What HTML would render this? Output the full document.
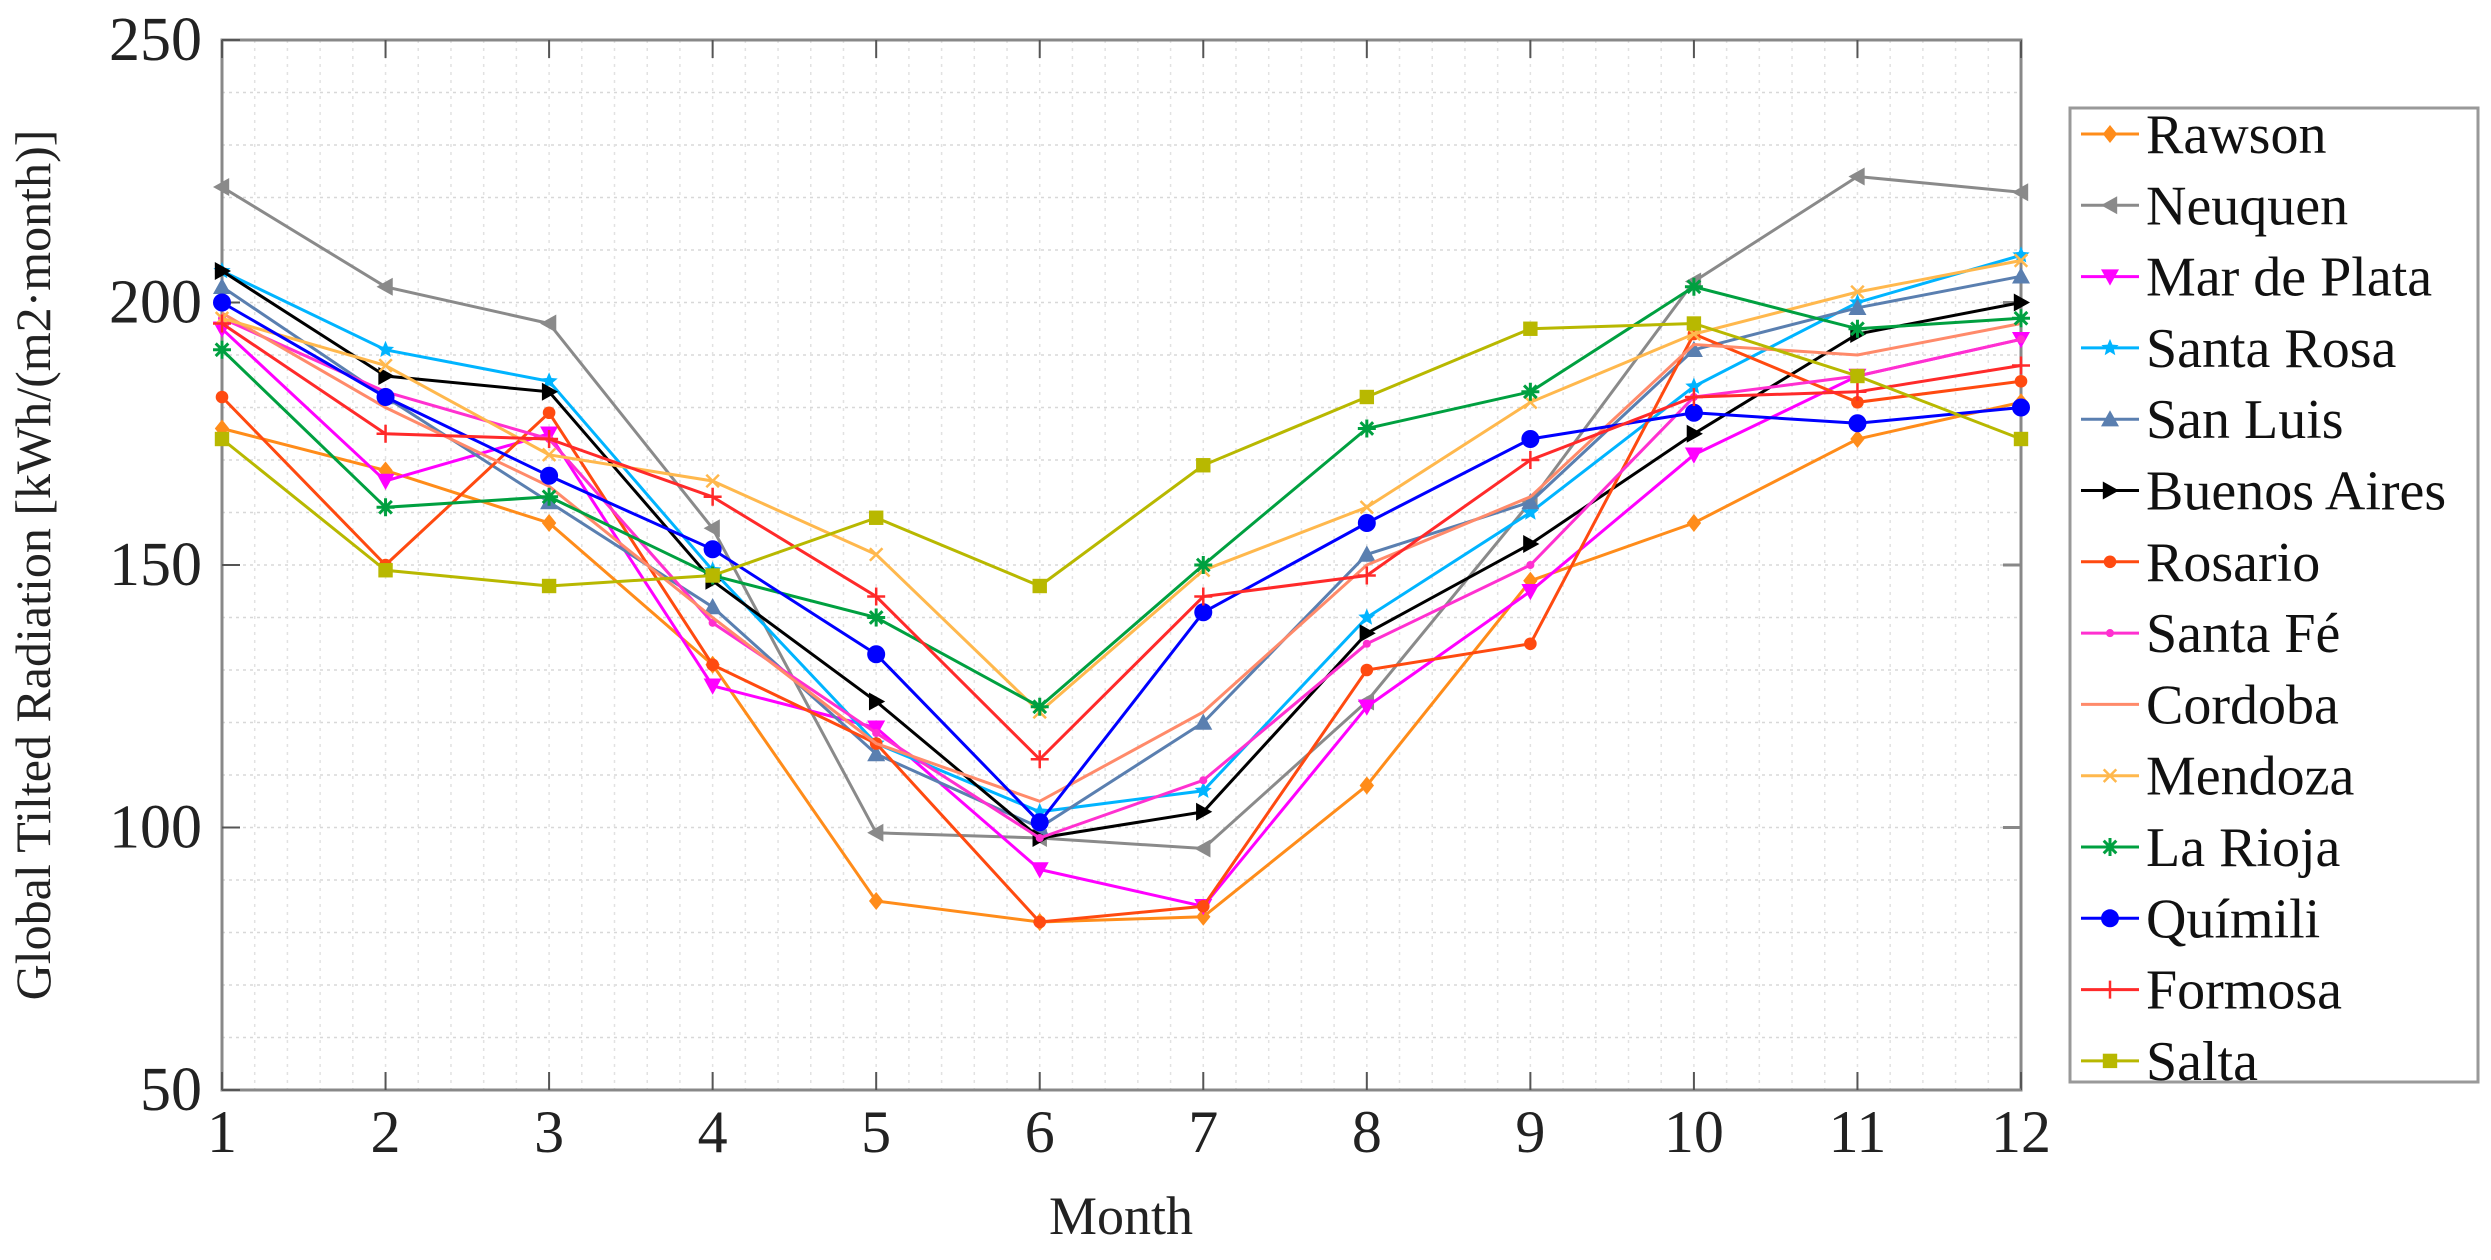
<!DOCTYPE html>
<html><head><meta charset="utf-8"><style>
html,body{margin:0;padding:0;background:#fff;}
svg, svg text{font-family:"Liberation Serif","Times New Roman",serif;}
</style></head><body>
<svg id="chart" width="2491" height="1255" viewBox="0 0 2491 1255" xmlns="http://www.w3.org/2000/svg" font-family="Liberation Serif, serif">
<rect width="2491" height="1255" fill="#fff"/>
<g id="grid"></g>
<g id="axes"></g>
<g id="series"></g>
<text x="0" y="0" transform="translate(50,565) rotate(-90)" text-anchor="middle" font-size="50" fill="#222" font-family="Liberation Serif, serif">Global Tilted Radiation [kWh/(m2·month)]</text>
<text x="1121" y="1234" text-anchor="middle" font-size="54" fill="#222" font-family="Liberation Serif, serif">Month</text>
<g id="legend"></g>
</svg>
<script>
const months=[1,2,3,4,5,6,7,8,9,10,11,12];
const yTicks=[50,100,150,200,250];
const names=["Rawson","Neuquen","Mar de Plata","Santa Rosa","San Luis","Buenos Aires","Rosario","Santa Fé","Cordoba","Mendoza","La Rioja","Químili","Formosa","Salta"];
const rawson=[176,168,158,131,86,82,83,108,147,158,174,181];
const neuquen=[222,203,196,157,99,98,96,124,162,204,224,221];
const marDePlata=[195,166,175,127,119,92,85,123,145,171,186,193];
const santaRosa=[206,191,185,149,116,103,107,140,160,184,200,209];
const sanLuis=[203,182,162,142,114,100,120,152,162,191,199,205];
const buenosAires=[206,186,183,147,124,98,103,137,154,175,194,200];
const rosario=[182,150,179,131,116,82,85,130,135,194,181,185];
const santaFe=[197,183,174,139,118,98,109,135,150,182,186,193];
const cordoba=[198,180,165,140,116,105,122,150,163,192,190,196];
const mendoza=[197,188,171,166,152,122,149,161,181,194,202,208];
const laRioja=[191,161,163,148,140,123,150,176,183,203,195,197];
const quimili=[200,182,167,153,133,101,141,158,174,179,177,180];
const formosa=[196,175,174,163,144,113,144,148,170,182,183,188];
const salta=[174,149,146,148,159,146,169,182,195,196,186,174];
const allSeries=[rawson,neuquen,marDePlata,santaRosa,sanLuis,buenosAires,rosario,santaFe,cordoba,mendoza,laRioja,quimili,formosa,salta];
const colors=["#ff8c1a","#8a8a8a","#ff00ff","#00b4ff","#5a7fb0","#000000","#ff4a10","#ff30d0","#ff8a6a","#ffb84d","#00a040","#0000ff","#ff2a2a","#b8b800"];
const markers=["diamond","tri-left","tri-down","star","tri-up","tri-right","dot-small","dot-tiny","none","x","asterisk","circle","plus","square"];

const L=222,R=2021,T=40,B=1090;
const xS=m=>L+(m-1)/(11)*(R-L);
const yS=v=>B-(v-50)/200*(B-T);
const NS="http://www.w3.org/2000/svg";
const FF="Liberation Serif, serif";
function mk(tag,attrs,parent){const e=document.createElementNS(NS,tag);for(const k in attrs)e.setAttribute(k,attrs[k]);parent.appendChild(e);return e;}

const grid=document.getElementById('grid');
for(let v=50;v<=250;v+=10){const y=yS(v);const g=mk('line',{x1:L,x2:R,y1:y,y2:y,stroke:'#d8d8d8','stroke-width':1.5,'stroke-dasharray':'3 4'},grid);}
for(let m=1;m<=12;m+=0.2){const x=xS(m);const g=mk('line',{x1:x,x2:x,y1:T,y2:B,stroke:'#e2e2e2','stroke-width':1.5,'stroke-dasharray':'3 5'},grid);}

const axes=document.getElementById('axes');
const frame=mk('rect',{x:L,y:T,width:R-L,height:B-T,fill:'none',stroke:'#888','stroke-width':3},axes);

months.forEach(m=>{const x=xS(m);
 mk('line',{x1:x,x2:x,y1:B,y2:B-18,stroke:'#555','stroke-width':2},axes);
 mk('line',{x1:x,x2:x,y1:T,y2:T+18,stroke:'#555','stroke-width':2},axes);
 const t=mk('text',{x:x,y:B+62,'text-anchor':'middle','font-size':60,fill:'#222','font-family':FF},axes);t.textContent=m;
 });
yTicks.forEach(v=>{const y=yS(v);
 mk('line',{x1:L,x2:L+18,y1:y,y2:y,stroke:'#555','stroke-width':2},axes);
 mk('line',{x1:R,x2:R-18,y1:y,y2:y,stroke:'#888','stroke-width':3},axes);
 const t=mk('text',{x:L-20,y:y+20,'text-anchor':'end','font-size':62,fill:'#222','font-family':FF},axes);t.textContent=v;
 });

function marker(g,type,x,y,c,s){
 s=s||9;
 switch(type){
 case 'diamond':mk('polygon',{points:`${x},${y-s} ${x+s*0.8},${y} ${x},${y+s} ${x-s*0.8},${y}`,fill:c},g);break;
 case 'tri-left':mk('polygon',{points:`${x-s},${y} ${x+s*0.8},${y-s} ${x+s*0.8},${y+s}`,fill:c},g);break;
 case 'tri-right':mk('polygon',{points:`${x+s},${y} ${x-s*0.8},${y-s} ${x-s*0.8},${y+s}`,fill:c},g);break;
 case 'tri-up':mk('polygon',{points:`${x},${y-s} ${x-s},${y+s*0.8} ${x+s},${y+s*0.8}`,fill:c},g);break;
 case 'tri-down':mk('polygon',{points:`${x},${y+s} ${x-s},${y-s*0.8} ${x+s},${y-s*0.8}`,fill:c},g);break;
 case 'star':{let p=[];for(let i=0;i<10;i++){const r=i%2?s*0.45:s;const a=-Math.PI/2+i*Math.PI/5;p.push((x+r*Math.cos(a)).toFixed(1)+','+(y+r*Math.sin(a)).toFixed(1));}mk('polygon',{points:p.join(' '),fill:c},g);break;}
 case 'dot-small':mk('circle',{cx:x,cy:y,r:s*0.7,fill:c},g);break;
 case 'dot-tiny':mk('circle',{cx:x,cy:y,r:s*0.45,fill:c},g);break;
 case 'circle':mk('circle',{cx:x,cy:y,r:s,fill:c},g);break;
 case 'square':mk('rect',{x:x-s*0.8,y:y-s*0.8,width:s*1.6,height:s*1.6,fill:c},g);break;
 case 'x':mk('path',{d:`M${x-s*0.7},${y-s*0.7}L${x+s*0.7},${y+s*0.7}M${x-s*0.7},${y+s*0.7}L${x+s*0.7},${y-s*0.7}`,stroke:c,'stroke-width':2.5},g);break;
 case 'plus':mk('path',{d:`M${x-s},${y}L${x+s},${y}M${x},${y-s}L${x},${y+s}`,stroke:c,'stroke-width':2.5},g);break;
 case 'asterisk':mk('path',{d:`M${x-s},${y}L${x+s},${y}M${x},${y-s}L${x},${y+s}M${x-s*0.7},${y-s*0.7}L${x+s*0.7},${y+s*0.7}M${x-s*0.7},${y+s*0.7}L${x+s*0.7},${y-s*0.7}`,stroke:c,'stroke-width':3},g);break;
 }
}

const seriesG=document.getElementById('series');
allSeries.forEach((vals,i)=>{
 const g=mk('g',{},seriesG);
 
 
 const pts=vals.map((v,j)=>xS(months[j]).toFixed(1)+','+yS(v).toFixed(1)).join(' ');
 const pl=mk('polyline',{points:pts,fill:'none',stroke:colors[i],'stroke-width':3},g);
 
 
 vals.forEach((v,j)=>marker(g,markers[i],xS(months[j]),yS(v),colors[i]));
});

const leg=document.getElementById('legend');
const lb=mk('rect',{x:2070,y:108,width:408,height:974,fill:'#fff',stroke:'#999','stroke-width':3},leg);

names.forEach((n,i)=>{
 const y=134+i*71.3;
 const g=mk('g',{},leg);
 
 
 mk('line',{x1:2081,x2:2139,y1:y,y2:y,stroke:colors[i],'stroke-width':3},g);
 marker(g,markers[i],2110,y,colors[i]);
 const t=mk('text',{x:2146,y:y+19,'font-size':56,fill:'#111','font-family':FF},g);t.textContent=n;
});
</script>
</body></html>
